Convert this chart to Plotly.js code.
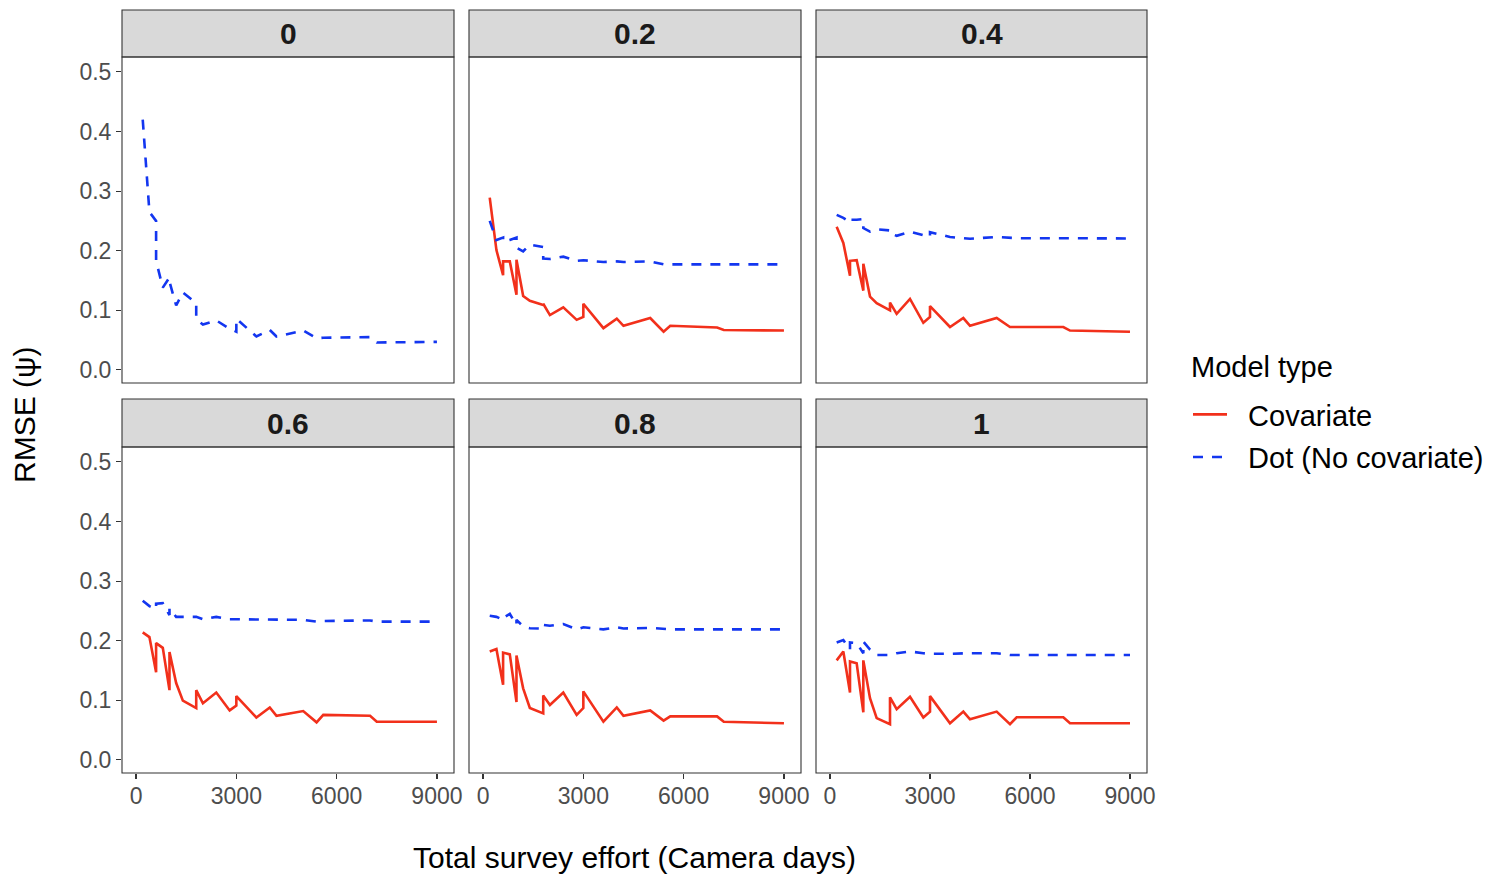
<!DOCTYPE html>
<html>
<head>
<meta charset="utf-8">
<script src="https://cdn.plot.ly/plotly-3.0.1.min.js"></script>
<style>html,body{margin:0;padding:0;background:#fff;}#chart{width:1503px;height:876px;}</style>
</head>
<body>
<div id="chart"></div>
<script>
// Total survey effort (camera days) – shared design points (ties are two designs with equal effort)
const effort = [200,400,600,600,800,1000,1000,1200,1400,1800,1800,2000,2400,2800,3000,3000,3600,4000,4200,5000,5400,5600,7000,7200,9000];

// Facet labels (covariate effect size)
const facets = ["0","0.2","0.4","0.6","0.8","1"];

// RMSE, Covariate model (no covariate model fitted for effect 0)
const cov_0   = null;
const cov_02  = [0.289,0.201,0.159,0.182,0.182,0.126,0.185,0.124,0.116,0.109,0.111,0.092,0.105,0.084,0.089,0.111,0.070,0.086,0.074,0.087,0.064,0.074,0.071,0.067,0.066];
const cov_04  = [0.240,0.213,0.158,0.183,0.184,0.133,0.178,0.123,0.112,0.100,0.113,0.094,0.119,0.079,0.089,0.107,0.072,0.087,0.074,0.087,0.072,0.072,0.072,0.066,0.064];
const cov_06  = [0.214,0.206,0.147,0.196,0.188,0.117,0.181,0.129,0.0995,0.087,0.117,0.095,0.113,0.083,0.091,0.107,0.071,0.088,0.074,0.082,0.063,0.0755,0.074,0.064,0.064];
const cov_08  = [0.182,0.186,0.126,0.180,0.177,0.097,0.175,0.120,0.087,0.078,0.108,0.092,0.113,0.0755,0.087,0.115,0.064,0.088,0.074,0.083,0.066,0.073,0.073,0.064,0.0615];
const cov_1   = [0.167,0.182,0.113,0.165,0.162,0.080,0.167,0.1035,0.070,0.060,0.105,0.085,0.106,0.071,0.081,0.107,0.0615,0.081,0.068,0.081,0.060,0.0715,0.0715,0.0615,0.0615];

// RMSE, Dot (no covariate) model
const dot_0   = [0.420,0.265,0.250,0.183,0.138,0.155,0.148,0.108,0.130,0.112,0.085,0.076,0.083,0.069,0.064,0.086,0.056,0.067,0.056,0.066,0.053,0.054,0.055,0.046,0.047];
const dot_02  = [0.250,0.218,0.222,0.215,0.218,0.222,0.205,0.199,0.210,0.206,0.187,0.186,0.190,0.183,0.184,0.184,0.181,0.182,0.181,0.182,0.177,0.177,0.177,0.177,0.177];
const dot_04  = [0.260,0.255,0.248,0.252,0.252,0.253,0.238,0.232,0.236,0.234,0.229,0.225,0.232,0.2265,0.223,0.231,0.223,0.221,0.220,0.223,0.221,0.221,0.221,0.221,0.2205];
const dot_06  = [0.267,0.258,0.253,0.262,0.263,0.243,0.2545,0.240,0.240,0.240,0.240,0.236,0.240,0.236,0.236,0.236,0.235,0.235,0.235,0.235,0.232,0.233,0.234,0.232,0.232];
const dot_08  = [0.242,0.240,0.235,0.238,0.245,0.2265,0.235,0.224,0.221,0.220,0.2265,0.225,0.228,0.219,0.2225,0.2225,0.219,0.2225,0.2205,0.2215,0.219,0.219,0.219,0.219,0.219];
const dot_1   = [0.197,0.201,0.185,0.197,0.196,0.179,0.1985,0.185,0.176,0.176,0.176,0.179,0.182,0.179,0.178,0.178,0.178,0.179,0.179,0.179,0.176,0.176,0.176,0.176,0.176];

const yTickVals = [0,0.1,0.2,0.3,0.4,0.5];
const yTickText = ["0.0","0.1","0.2","0.3","0.4","0.5"];
const xTickVals = [0,3000,6000,9000];
const xTickText = ["0","3000","6000","9000"];

const covSeries = [cov_0, cov_02, cov_04, cov_06, cov_08, cov_1];
const dotSeries = [dot_0, dot_02, dot_04, dot_06, dot_08, dot_1];

const RED = "#F2301B", BLUE = "#1336F0";
const FONT = "Liberation Sans, Arial, Helvetica, sans-serif";
const W = 1503, H = 876;
const NB = "\u00A0\u00A0";

// panel pixel boxes
const colX = [[122,454],[469,801],[816,1147]];
const rowY = [[57,383],[447,773]];
const stripY = [[10,57],[399,447]];

const traces = [];
const layout = {
  width: W, height: H,
  margin: {l:0, r:0, t:0, b:0},
  paper_bgcolor: "#ffffff", plot_bgcolor: "#ffffff",
  font: {family: FONT, color: "#000"},
  showlegend: true,
  legend: {
    x: 1188/W, y: 1 - 389/H, xanchor: "left", yanchor: "top",
    font: {size: 29, family: FONT, color: "#000"},
    tracegroupgap: 2, itemwidth: 34, bgcolor: "rgba(0,0,0,0)"
  },
  shapes: [], annotations: []
};

for (let i = 0; i < 6; i++) {
  const r = Math.floor(i / 3), c = i % 3;
  const ax = i === 0 ? "" : String(i + 1);
  const xd = [colX[c][0] / W, colX[c][1] / W];
  const yd = [1 - rowY[r][1] / H, 1 - rowY[r][0] / H];
  layout["xaxis" + ax] = {
    domain: xd, range: [-420, 9510], anchor: "y" + ax,
    tickvals: xTickVals, ticktext: xTickText,
    showticklabels: r === 1, ticks: r === 1 ? "outside" : "", ticklen: 5, tickwidth: 1.1, tickcolor: "#333333",
    ticklabelstandoff: -3,
    tickfont: {size: 23, color: "#4D4D4D", family: FONT},
    showgrid: false, zeroline: false, showline: false, fixedrange: true
  };
  layout["yaxis" + ax] = {
    domain: yd, range: [-0.022, 0.525], anchor: "x" + ax,
    tickvals: yTickVals, ticktext: yTickText,
    showticklabels: c === 0, ticks: c === 0 ? "outside" : "", ticklen: 5, tickwidth: 1.1, tickcolor: "#333333",
    tickfont: {size: 23, color: "#4D4D4D", family: FONT},
    showgrid: false, zeroline: false, showline: false, fixedrange: true
  };
  // panel border
  layout.shapes.push({type: "rect", xref: "paper", yref: "paper",
    x0: xd[0], x1: xd[1], y0: yd[0], y1: yd[1],
    line: {color: "#333333", width: 1.1}, fillcolor: "rgba(0,0,0,0)", layer: "above"});
  // strip
  const sy = [1 - stripY[r][1] / H, 1 - stripY[r][0] / H];
  layout.shapes.push({type: "rect", xref: "paper", yref: "paper",
    x0: xd[0], x1: xd[1], y0: sy[0], y1: sy[1],
    line: {color: "#333333", width: 1.1}, fillcolor: "#D9D9D9", layer: "below"});
  layout.annotations.push({xref: "paper", yref: "paper", x: (xd[0] + xd[1]) / 2, y: (sy[0] + sy[1]) / 2,
    xanchor: "center", yanchor: "middle", showarrow: false, text: "<b>" + facets[i] + "</b>",
    font: {size: 30, color: "#1A1A1A", family: FONT}});

  if (covSeries[i]) {
    traces.push({x: effort, y: covSeries[i], type: "scatter", mode: "lines",
      xaxis: "x" + ax, yaxis: "y" + ax, name: NB + "Covariate", legendgroup: "cov",
      showlegend: i === 1, line: {color: RED, width: 2.6}, hoverinfo: "skip"});
  }
  traces.push({x: effort, y: dotSeries[i], type: "scatter", mode: "lines",
    xaxis: "x" + ax, yaxis: "y" + ax, name: NB + "Dot (No covariate)", legendgroup: "dot",
    showlegend: i === 0, line: {color: BLUE, width: 2.6, dash: "10px,9px"}, hoverinfo: "skip"});
}
// put Covariate first in the legend
traces.sort((a, b) => (b.showlegend && b.legendgroup === "cov") - (a.showlegend && a.legendgroup === "cov"));

// legend title
layout.annotations.push({xref: "paper", yref: "paper", x: 1189 / W, y: 1 - 367 / H,
  xanchor: "left", yanchor: "middle", showarrow: false,
  text: "Model type", font: {size: 29, color: "#000", family: FONT}});
layout.annotations.push({xref: "paper", yref: "paper", x: 634.5 / W, y: 1 - 857 / H,
  xanchor: "center", yanchor: "middle", showarrow: false,
  text: "Total survey effort (Camera days)", font: {size: 30, color: "#000", family: FONT}});
layout.annotations.push({xref: "paper", yref: "paper", x: 25 / W, y: 1 - 415 / H,
  xanchor: "center", yanchor: "middle", showarrow: false, textangle: -90,
  text: "RMSE (ψ)", font: {size: 30, color: "#000", family: FONT}});

Plotly.newPlot("chart", traces, layout, {staticPlot: true, displayModeBar: false});
</script>
</body>
</html>
